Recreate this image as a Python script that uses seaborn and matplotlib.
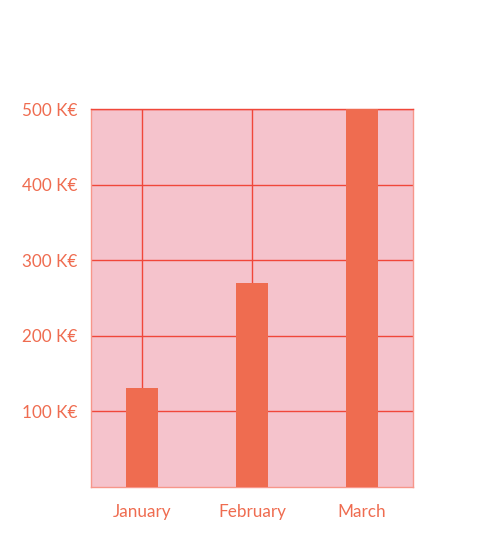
import matplotlib
matplotlib.use("Agg")
import matplotlib.pyplot as plt
import seaborn as sns
import pandas as pd

months = ["January", "February", "March"]
revenue = [131, 270, 500]
yticks = [100, 200, 300, 400, 500]
ytick_labels = ["100 K€", "200 K€", "300 K€", "400 K€", "500 K€"]

sns.set_theme(style="white")
plt.rcParams['font.family'] = ['Lato', 'DejaVu Sans']

df = pd.DataFrame({"month": months, "revenue": revenue})

fig = plt.figure(figsize=(4.94, 5.56), dpi=100)
ax = fig.add_axes([91/494, 69/556, 322/494, 378/556])
ax.set_facecolor("#f5c3cc")

sns.barplot(data=df, x="month", y="revenue", color="#ef6c50", saturation=1,
            width=0.29, ax=ax, zorder=3, edgecolor="#ef6c50", linewidth=0)

ax.set_axisbelow(True)
ax.grid(True, color="#f0473a", linewidth=1, zorder=1)
ax.set_ylim(0, 500)
ax.set_xlim(-0.4636, 2.4636)
ax.set_yticks(yticks)
ax.set_yticklabels(ytick_labels)
ax.set_xlabel("")
ax.set_ylabel("")
ax.tick_params(axis="both", length=0, colors="#ef6c50", labelsize=12.3)
ax.tick_params(axis="y", pad=10)
ax.tick_params(axis="x", pad=12)
for s in ax.spines.values():
    s.set_color("#f7968a")
    s.set_linewidth(1)
ax.spines["top"].set_color("#f0473a")

fig.savefig("out.png", dpi=100)
